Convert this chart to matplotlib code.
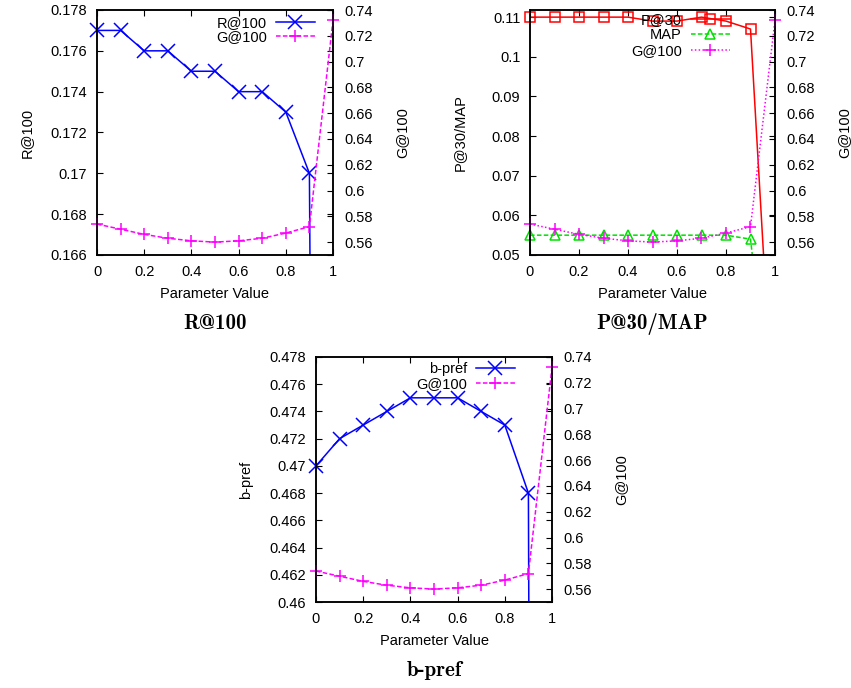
import numpy as np
import matplotlib
matplotlib.use("Agg")
import matplotlib.pyplot as plt
from matplotlib.lines import Line2D
from matplotlib.ticker import FuncFormatter

plt.rcParams['font.family'] = ['Liberation Sans', 'DejaVu Sans']

# parameter values
params = [0.0, 0.1, 0.2, 0.3, 0.4, 0.5, 0.6, 0.7, 0.8, 0.9, 1.0]

# G@100 (shared right axis in all panels)
g100 = [0.574, 0.570, 0.566, 0.563, 0.561, 0.560, 0.561, 0.563, 0.567, 0.572, 0.732]

# left-axis metrics
r100 = [0.177, 0.177, 0.176, 0.176, 0.175, 0.175, 0.174, 0.174, 0.173, 0.170, 0.0]
p30 = [0.110, 0.110, 0.110, 0.110, 0.110, 0.109, 0.109, 0.110, 0.109, 0.107, 0.0]
map_ = [0.055, 0.055, 0.055, 0.055, 0.055, 0.055, 0.055, 0.055, 0.055, 0.054, 0.0]
bpref = [0.470, 0.472, 0.473, 0.474, 0.475, 0.475, 0.475, 0.474, 0.473, 0.468, 0.0]

W, H = 851, 688
FS = 10.5

BLUE = '#0000ff'
MAG = '#ff00ff'
RED = '#ff0000'
GREEN = '#00e000'

g_fmt = FuncFormatter(lambda v, p: '%g' % round(v, 4))


def px_axes(fig, left, top, right, bottom):
    return fig.add_axes([left / W, 1 - bottom / H, (right - left) / W, (bottom - top) / H])


def series(ax, x, y, color, marker, ms, dashes, label):
    """line clipped to the box, markers (inside the range) not clipped"""
    x = np.asarray(x)
    y = np.asarray(y)
    lo, hi = ax.get_ylim()
    ax.plot(x, y, color=color, lw=1.1, dashes=dashes)
    m = (y >= lo - 1e-9) & (y <= hi + 1e-9)
    ax.plot(x[m], y[m], ls='none', marker=marker, ms=ms, mew=1.1,
            mfc='none', mec=color, clip_on=False)
    return Line2D([], [], color=color, lw=1.1, dashes=dashes, marker=marker,
                  ms=ms, mew=1.1, mfc='none', mec=color, label=label)


def style(ax, ax2, yticks, box_w, left_lab, caption, cap_y):
    ax.set_xlim(0, 1)
    ax.set_xticks(np.arange(0, 1.01, 0.2))
    ax.xaxis.set_major_formatter(g_fmt)
    ax.set_yticks(yticks)
    ax.yaxis.set_major_formatter(g_fmt)
    ax2.set_yticks(np.arange(0.56, 0.741, 0.02))
    ax2.yaxis.set_major_formatter(g_fmt)
    ax.tick_params(direction='in', length=4, width=0.8, top=True, right=True,
                   labelsize=FS, pad=7)
    ax2.tick_params(direction='in', length=4, width=0.8, labelsize=FS, pad=8)
    for a in (ax, ax2):
        for s in a.spines.values():
            s.set_linewidth(1.1)
    ax.set_xlabel('Parameter Value', fontsize=FS, labelpad=6)
    ax.text(-70 / box_w, 0.5, left_lab, transform=ax.transAxes, rotation=90,
            ha='center', va='center', fontsize=FS)
    ax.text(1 + 69 / box_w, 0.5, 'G@100', transform=ax.transAxes, rotation=90,
            ha='center', va='center', fontsize=FS)
    ax.text(0.5, cap_y, caption, transform=ax.transAxes, ha='center',
            va='center', fontsize=15, family=['cmb10', 'DejaVu Serif'])


def legend(ax2, handles, right_px, down_px, spacing):
    bb = ax2.get_position()
    ax2.legend(handles=handles, loc='upper right', frameon=False,
               markerfirst=False, fontsize=FS, borderpad=0, borderaxespad=0,
               handlelength=2.7, handletextpad=0.6, labelspacing=spacing,
               bbox_to_anchor=(1 - right_px / (bb.width * W),
                               1 - down_px / (bb.height * H)))


fig = plt.figure(figsize=(W / 100, H / 100), dpi=100)

# ---- R@100
ax = px_axes(fig, 97, 10, 333, 255)
ax.set_ylim(0.166, 0.178)
ax2 = ax.twinx()
ax2.set_ylim(0.55, 0.74)
h1 = series(ax, params, r100, BLUE, 'x', 10, (None, None), 'R@100')
h2 = series(ax2, params, g100, MAG, '+', 8, (3, 1.5), 'G@100')
style(ax, ax2, np.arange(0.166, 0.1781, 0.002), 236, 'R@100', 'R@100', -0.28)
legend(ax2, [h1, h2], 18, 6, 0.0)

# ---- P@30/MAP
ax = px_axes(fig, 530, 10, 775, 255)
ax.set_ylim(0.05, 0.1118)
ax2 = ax.twinx()
ax2.set_ylim(0.55, 0.74)
h1 = series(ax, params, p30, RED, 's', 7.5, (None, None), 'P@30')
h2 = series(ax, params, map_, GREEN, '^', 7.5, (3, 1.5), 'MAP')
h3 = series(ax2, params, g100, MAG, '+', 8, (1, 1.5), 'G@100')
style(ax, ax2, np.arange(0.05, 0.111, 0.01), 245, 'P@30/MAP', 'P@30/MAP', -0.28)
legend(ax2, [h1, h2, h3], 45, 3, 0.1)

# ---- b-pref
ax = px_axes(fig, 316, 357, 552, 602)
ax.set_ylim(0.46, 0.478)
ax2 = ax.twinx()
ax2.set_ylim(0.55, 0.74)
h1 = series(ax, params, bpref, BLUE, 'x', 10, (None, None), 'b-pref')
h2 = series(ax2, params, g100, MAG, '+', 8, (3, 1.5), 'G@100')
style(ax, ax2, np.arange(0.46, 0.4781, 0.002), 236, 'b-pref', 'b-pref', -0.28)
legend(ax2, [h1, h2], 37, 5, 0.1)

fig.savefig('out.png', dpi=100)
